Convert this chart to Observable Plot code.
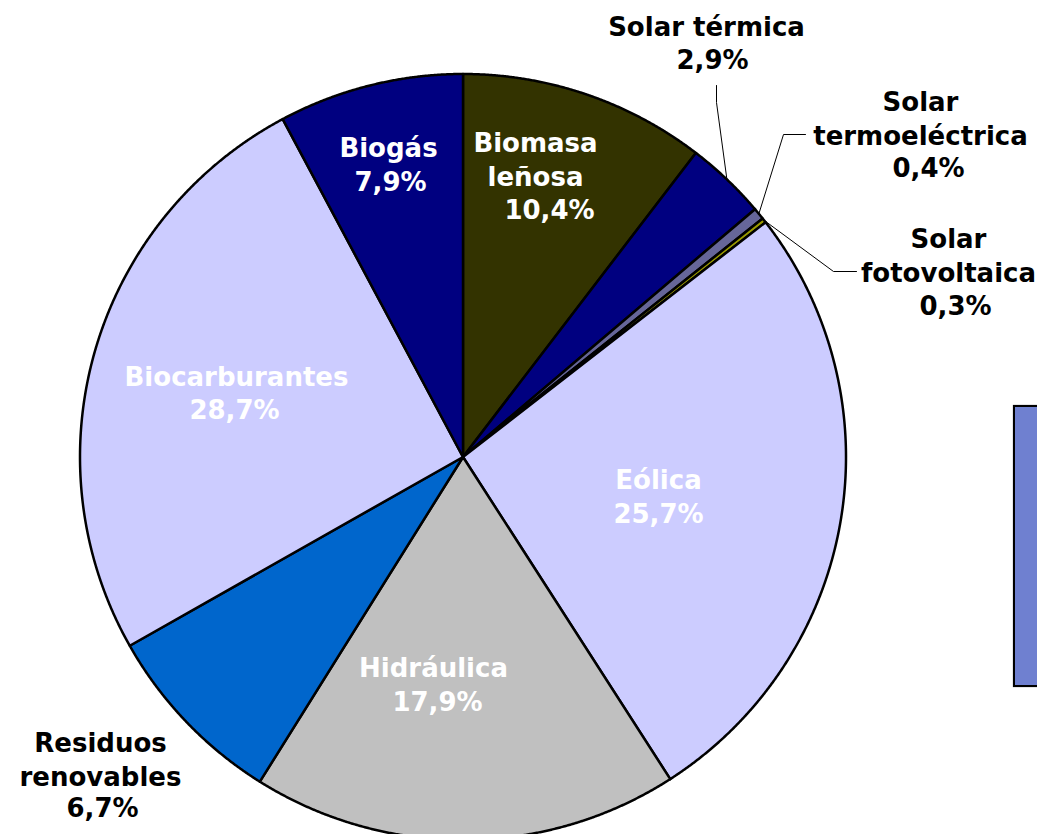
<!DOCTYPE html>
<html>
<head>
<meta charset="utf-8">
<script src="https://cdn.jsdelivr.net/npm/d3@7"></script>
<script src="https://cdn.jsdelivr.net/npm/@observablehq/plot@0.6"></script>
<style>
  html, body { margin: 0; padding: 0; background: #fff; overflow: hidden; }
  #wrap { position: relative; width: 1037px; height: 834px; overflow: hidden; }
  #legendBox { position: absolute; left: 1013px; top: 405px; width: 40px; height: 278px;
    background: #6F80D0; border: 2px solid #000; box-shadow: 0 0 1px #666; }
</style>
</head>
<body>
<div id="wrap"><div id="chart"></div><div id="legendBox"></div></div>
<script>
// ---- data (clockwise from 12 o'clock) ----
const names = ["Biomasa leñosa", "Solar térmica", "Solar termoeléctrica", "Solar fotovoltaica",
               "Eólica", "Hidráulica", "Residuos renovables", "Biocarburantes", "Biogás"];
// slice sizes as drawn in the picture (%)
const shares = [10.4, 3.4, 0.5, 0.2, 26.4, 18.0, 7.9, 25.4, 7.8];
// percentages printed on the labels
const pctLabels = ["10,4%", "2,9%", "0,4%", "0,3%", "25,7%", "17,9%", "6,7%", "28,7%", "7,9%"];
// names as they are broken into lines on the chart
const nameLines = ["Biomasa\nleñosa", "Solar térmica", "Solar\ntermoeléctrica", "Solar\nfotovoltaica",
                   "Eólica", "Hidráulica", "Residuos\nrenovables", "Biocarburantes", "Biogás"];
const colors = ["#333300", "#000080", "#666699", "#999900", "#CCCCFF", "#C0C0C0", "#0066CC", "#CCCCFF", "#000080"];

// ---- layout (pixels) ----
const W = 1037, H = 834, CX = 462.5, CY = 456.5, R = 383;
const toU = ([px, py]) => [(px - CX) / R, (CY - py) / R];
const labelLayout = [
  {name: [535, 158], value: [549, 210], color: "white"},
  {name: [706, 25],  value: [712, 60],  color: "black"},
  {name: [920, 117], value: [928, 168], color: "black"},
  {name: [948, 254], value: [955, 306], color: "black"},
  {name: [658, 478], value: [658, 514], color: "white"},
  {name: [433, 666], value: [437, 702], color: "white"},
  {name: [100, 758], value: [102, 808], color: "black"},
  {name: [236, 375], value: [234, 410], color: "white"},
  {name: [388, 146], value: [390, 182], color: "white"}
];
const leaders = [
  {i: 1, pts: [[716, 85], [716, 102]]},
  {i: 2, pts: [[805, 134], [783, 134]]},
  {i: 3, pts: [[856, 271], [833, 271]]}
];

// ---- slice geometry from the data ----
const arcs = d3.pie().sort(null).value(d => d)(shares);
const slicePts = [];
arcs.forEach((a, i) => {
  slicePts.push({slice: names[i], x: 0, y: 0});
  const n = Math.max(2, Math.ceil((a.endAngle - a.startAngle) / 0.003));
  for (let k = 0; k <= n; k++) {
    const t = a.startAngle + (a.endAngle - a.startAngle) * k / n;
    slicePts.push({slice: names[i], x: Math.sin(t), y: Math.cos(t)});
  }
});

const leaderPts = [];
leaders.forEach(({i, pts}) => {
  pts.forEach(p => { const [x, y] = toU(p); leaderPts.push({id: i, x, y}); });
  const mid = (arcs[i].startAngle + arcs[i].endAngle) / 2;
  leaderPts.push({id: i, x: Math.sin(mid), y: Math.cos(mid)});
});

const nameRows = names.map((n, i) => {
  const [x, y] = toU(labelLayout[i].name);
  return {text: nameLines[i], x, y, color: labelLayout[i].color};
});
const valueRows = pctLabels.map((p, i) => {
  const [x, y] = toU(labelLayout[i].value);
  return {text: p, x, y, color: labelLayout[i].color};
});

const font = {fontFamily: "Verdana, 'DejaVu Sans', sans-serif", fontSize: 26, fontWeight: "bold"};

const chart = Plot.plot({
  width: W, height: H,
  marginTop: 0, marginRight: 0, marginBottom: 0, marginLeft: 0,
  x: {domain: [-1, 1], range: [CX - R, CX + R], axis: null},
  y: {domain: [-1, 1], range: [CY + R, CY - R], axis: null},
  color: {type: "ordinal", domain: names, range: colors},
  style: {background: "white", overflow: "hidden"},
  marks: [
    Plot.line(slicePts, {x: "x", y: "y", z: "slice", fill: "slice", stroke: "black",
      strokeWidth: 2.5, strokeLinejoin: "round", curve: "linear-closed"}),
    Plot.line(leaderPts, {x: "x", y: "y", z: "id", stroke: "black", strokeWidth: 1}),
    Plot.text(nameRows, {x: "x", y: "y", text: "text", fill: "color", lineHeight: 1.31,
      textAnchor: "middle", lineAnchor: "middle", ...font}),
    Plot.text(valueRows, {x: "x", y: "y", text: "text", fill: "color",
      textAnchor: "middle", lineAnchor: "middle", ...font})
  ]
});
document.getElementById("chart").appendChild(chart);
</script>
</body>
</html>
